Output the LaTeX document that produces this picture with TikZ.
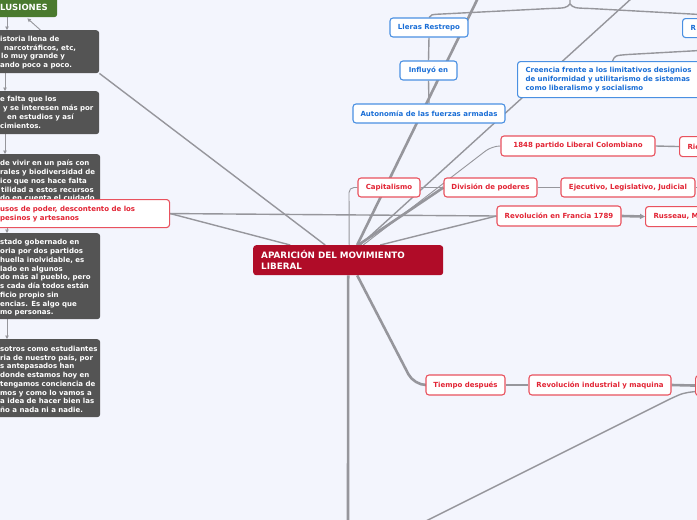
\documentclass[tikz,border=0pt]{standalone}
\usepackage{fontspec}
\setmainfont{DejaVu Sans}
\usetikzlibrary{arrows.meta}
\pgfdeclarelayer{bg}\pgfdeclarelayer{edges}
\pgfsetlayers{bg,edges,main}
\definecolor{bgc}{RGB}{243,245,253}
\definecolor{centralred}{RGB}{176,12,40}
\definecolor{darkg}{RGB}{84,84,84}
\definecolor{greenc}{RGB}{74,122,46}
\definecolor{redline}{RGB}{233,82,94}
\definecolor{redtxt}{RGB}{226,36,52}
\definecolor{blueline}{RGB}{74,144,226}
\definecolor{bluetxt}{RGB}{26,110,214}
\definecolor{edgec}{RGB}{150,150,156}
\tikzset{
  base/.style={rounded corners=3pt, font=\fontsize{7pt}{8.75pt}\selectfont\bfseries, inner sep=0pt},
  redbox/.style={base, draw=redline, line width=1.1pt, fill=white, text=redtxt, align=center},
  bluebox/.style={base, draw=blueline, line width=1.1pt, fill=white, text=bluetxt, align=center},
  darkbox/.style={base, fill=darkg},
  darktext/.style={base, text=white, align=left, anchor=west},
  edgeA/.style={draw=edgec, line width=2.6pt},
  edgeB/.style={draw=edgec, line width=1.4pt},
  edgeC/.style={draw=edgec, line width=0.9pt},
  smallarrow/.style={draw=edgec, line width=0.9pt, -{Triangle[length=3.5pt,width=3.5pt]}}
}
\begin{document}
\begin{tikzpicture}[x=1pt,y=-1pt]
\useasboundingbox (0,0) rectangle (697,520);
\begin{pgfonlayer}{bg}
\fill[bgc] (0,0) rectangle (697,520);
\end{pgfonlayer}
\clip (0,0) rectangle (697,520);

% ---------- central node
\node[base, fill=centralred, text=white, anchor=north west, minimum width=190pt, minimum height=30pt,
      text width=174pt, inner xsep=8pt, align=left, font=\fontsize{8.8pt}{11pt}\selectfont\bfseries]
      (central) at (253,245) {APARICIÓN DEL MOVIMIENTO\\LIBERAL};

% ---------- left column
\node[base, fill=greenc, anchor=north west, minimum width=77pt, minimum height=22pt] (green) at (-20,-5) {};
\node[base, text=white, anchor=west, font=\fontsize{8.5pt}{10pt}\selectfont\bfseries] (greent) at (0,7.5) {LUSIONES};

\node[darkbox, anchor=north west, minimum width=110pt, minimum height=43pt] (boxa) at (-11,30) {};
\node[darktext] (ta) at (0,52.5) {istoria llena de\\\hspace*{4pt}narcotráficos, etc,\\\hspace*{1pt}lo muy grande y\\ando poco a poco.};

\node[darkbox, anchor=north west, minimum width=110pt, minimum height=43pt] (boxb) at (-11,91) {};
\node[darktext] (tb) at (0,112.5) {e falta que los\\\hspace*{3pt}y se interesen más por\\\hspace*{7pt}en estudios y así\\cimientos.};

\node[darkbox, anchor=north west, minimum width=111pt, minimum height=71pt] (boxc) at (-11,154) {};
\node[darktext] (tc) at (0,180.5) {de vivir en un país con\\rales y biodiversidad de\\ico que nos hace falta\\\hspace*{1pt}tilidad a estos recursos\\do en cuenta el cuidado};

\node[darkbox, anchor=north west, minimum width=111pt, minimum height=86pt] (boxd) at (-11,233) {};
\node[darktext] (td) at (0,278) {stado gobernado en\\oria por dos partidos\\huella inolvidable, es\\lado en algunos\\do más al pueblo, pero\\s cada día todos están\\ficio propio sin\\encias. Es algo que\\mo personas.};

\node[darkbox, anchor=north west, minimum width=111pt, minimum height=78pt] (boxe) at (-11,339) {};
\node[darktext] (te) at (0,379.5) {sotros como estudiantes\\ria de nuestro país, por\\s antepasados han\\donde estamos hoy en\\tengamos conciencia de\\mos y como lo vamos a\\a idea de hacer bien las\\ño a nada ni a nadie.};

\node[redbox, anchor=north west, minimum width=180pt, minimum height=28pt] (redleft) at (-11,199) {};
\node[base, text=redtxt, align=left, anchor=west, font=\fontsize{7pt}{9.6pt}\selectfont\bfseries] (redleftt) at (0,214) {usos de poder, descontento de los\\pesinos y artesanos};

% ---------- blue nodes
\node[bluebox, minimum width=78pt, minimum height=19pt] (lleras) at (429,27.5) {Lleras Restrepo};
\node[bluebox, minimum width=57pt, minimum height=19pt] (influyo) at (428.5,70.5) {Influyó en};
\node[bluebox, minimum width=152pt, minimum height=19pt] (autonomia) at (429,113.5) {Autonomía de las fuerzas armadas};
\node[bluebox, anchor=north west, minimum width=190pt, minimum height=36pt, text width=174pt, inner xsep=8pt, align=left,
      font=\fontsize{7pt}{8.6pt}\selectfont\bfseries] (creencia) at (517,61)
      {Creencia frente a los limitativos designios\\de uniformidad y utilitarismo de sistemas\\como liberalismo y socialismo};
\node[bluebox, anchor=north west, minimum width=78pt, minimum height=19pt, text width=70pt, inner xsep=8pt, align=left] (rbox) at (682,18) {R};

% ---------- red nodes
\node[redbox, minimum width=62pt, minimum height=19pt] (capitalismo) at (389,187.5) {Capitalismo};
\node[redbox, minimum width=93pt, minimum height=19pt] (division) at (490.5,187.5) {División de poderes};
\node[redbox, minimum width=134pt, minimum height=19pt] (ejecutivo) at (628,187.5) {Ejecutivo, Legislativo, Judicial};
\node[redbox, minimum width=154pt, minimum height=20pt] (p1848) at (578,146) {1848 partido Liberal Colombiano};
\node[redbox, anchor=north west, minimum width=70pt, minimum height=20pt, text width=62pt, inner xsep=8pt, align=left] (ric) at (679,136) {Ric};
\node[redbox, minimum width=124pt, minimum height=20pt] (revolucion) at (559,216) {Revolución en Francia 1789};
\node[redbox, anchor=north west, minimum width=80pt, minimum height=20pt, text width=72pt, inner xsep=8pt, align=left] (russeau) at (645,206) {Russeau, M};
\node[redbox, minimum width=79pt, minimum height=20pt] (tiempo) at (465.5,385) {Tiempo después};
\node[redbox, minimum width=142pt, minimum height=20pt] (revind) at (600,385) {Revolución industrial y maquina};
\node[redbox, anchor=north west, minimum width=70pt, minimum height=20pt] (rightbox) at (695,375) {};

% ---------- free ends
\coordinate (top1) at (478,-2);
\coordinate (top2) at (632,-2);
\coordinate (topj) at (570,-2);
\coordinate (rightc) at (700,50.5);
\coordinate (ejend) at (700,187.5);
\coordinate (bot1) at (348,522);
\coordinate (bot2) at (424,522);

% ---------- connectors
\begin{pgfonlayer}{edges}
\draw[edgeA] ([xshift=9pt]central.north) -- (top1);
\draw[edgeB] ([xshift=12pt]central.north) -- (top2);
\draw[edgeC, rounded corners=8pt] ([xshift=15pt]central.north) -- (492,146) -- (p1848.west);
\draw[edgeA] ([xshift=10pt]central.north) -- (division.west);
\draw[edgeC, rounded corners=5pt] ([xshift=1pt]central.north) -- (349,187.5) -- (capitalismo.west);
\draw[edgeB] ([xshift=32pt]central.north) -- (revolucion.west);
\draw[edgeB] (redleft.east) -- (revolucion.west);
\draw[edgeB] (redleft.east) -- ([xshift=-58pt]central.north);
\draw[edgeB] (boxa.south east) -- ([xshift=-23pt]central.north);
\draw[edgeA, rounded corners=12pt] ([xshift=9pt]central.south) -- (414,385) -- (tiempo.west);
\draw[edgeA] (central.south) -- (bot1);
\draw[edgeB] (bot2) -- (670,399) .. controls (683,393) .. ([yshift=-6pt]rightbox.west);
% right side chains
\draw[edgeB] (p1848.east) -- (ric.west);
\draw[edgeB] (capitalismo.east) -- (division.west);
\draw[edgeB] (division.east) -- (ejecutivo.west);
\draw[edgeB] (ejecutivo.east) -- (ejend);
\draw[edgeA, -{Triangle[length=5pt,width=5pt]}] (revolucion.east) -- (russeau.west);
\draw[edgeA] (tiempo.east) -- (revind.west);
\draw[edgeA] (revind.east) -- (rightbox.west);
% top tree
\draw[edgeB] (topj) -- (570,4) .. controls (566,8) .. (550,8.5) -- (442,14) .. controls (431,14.5) .. (lleras.north);
\draw[edgeB] (570,4) .. controls (574,8) .. (590,8.5) -- (700,14.5);
\draw[edgeB] (lleras.south) -- (influyo.north);
\draw[edgeB] (influyo.south) -- (autonomia.north);
\draw[edgeB] (rightc) -- (628,54.5) .. controls (615,55.5) .. (creencia.north);
% left column arrows
\draw[smallarrow] (green.south -| 7,0) -- (boxa.north -| 7,0);
\draw[smallarrow] (boxa.south -| 5,0) -- (boxb.north -| 5,0);
\draw[smallarrow] (boxb.south -| 5,0) -- (boxc.north -| 5,0);
\draw[smallarrow] (redleft.south -| 7,0) -- (boxd.north -| 7,0);
\draw[smallarrow] (boxd.south -| 7,0) -- (boxe.north -| 7,0);
\draw[smallarrow] ([xshift=-59pt]boxa.north east) -- ([xshift=-30pt,yshift=-1pt]green.south east);
\end{pgfonlayer}
\end{tikzpicture}
\end{document}
